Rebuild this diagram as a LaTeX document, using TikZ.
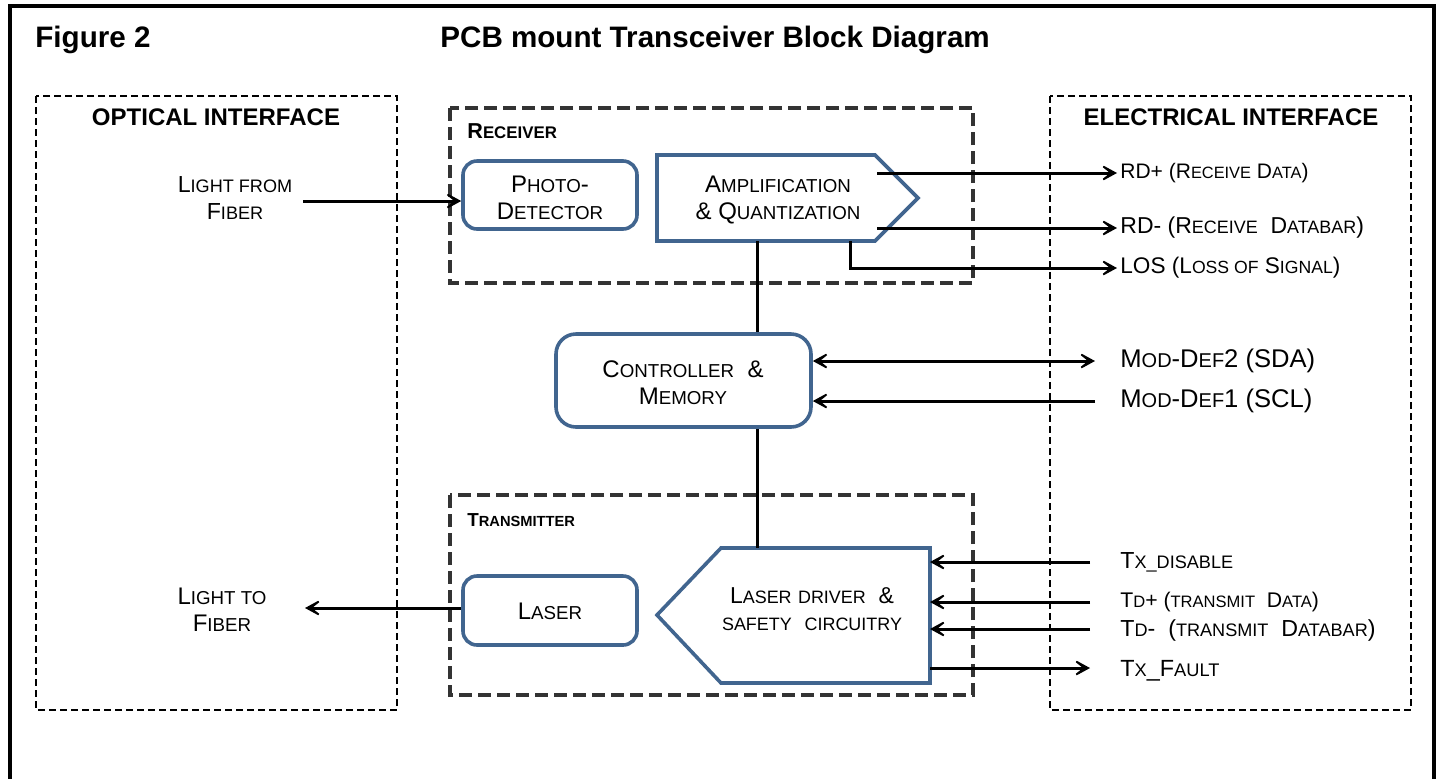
\documentclass[tikz,border=0pt]{standalone}
\usepackage{fontspec}
\setmainfont{Liberation Sans}
\usetikzlibrary{arrows.meta}
\definecolor{boxblue}{HTML}{41658F}
\definecolor{dgrey}{HTML}{333333}
\newcommand\sC[1]{{\fontsize{0.78em}{1em}\selectfont #1}}
\newcommand\fsz[1]{\fontsize{#1}{13.5pt}\selectfont}
\tikzset{
  conn/.style={line width=1.5pt, black},
  tip/.tip={Stealth[length=11pt,width=12pt,inset=7.5pt]},
  arr/.style={conn, -tip},
  barr/.style={conn, tip-tip},
  bluebox/.style={draw=boxblue, line width=1.8pt, fill=white},
  rbox/.style={bluebox, rounded corners=7pt, inner sep=0pt},
  iface/.style={draw=black, line width=1.2pt, dash pattern=on 3.5pt off 2pt},
  group/.style={draw=dgrey, line width=2pt, dash pattern=on 6.5pt off 3pt},
  lbl/.style={font=\fsz{12pt}, align=center, inner sep=0pt, text=black},
  rlbl/.style={lbl, anchor=west},
  head/.style={font=\fontsize{12pt}{14pt}\selectfont\bfseries, inner sep=0pt},
  ttl/.style={font=\fontsize{14.8pt}{17pt}\selectfont\bfseries, inner sep=0pt, anchor=west},
}
\begin{document}
\begin{tikzpicture}[x=0.5pt,y=-0.5pt]
\useasboundingbox (0,0) rectangle (1439,778);
\clip (0,0) rectangle (1439,778);
\fill[white] (0,0) rectangle (1439,778);
% outer frame
\draw[line width=2pt] (10,800) -- (10,6) -- (1434,6) -- (1434,800);
% titles
\node[ttl] (fig) at (35,40) {Figure 2};
\node[ttl] (title) at (440,40) {PCB mount Transceiver Block Diagram};
% interface boxes
\draw[iface] (36,96) rectangle (397,710);
\draw[iface] (1050,96) rectangle (1411,710);
\node[head] (opt) at (216,117) {OPTICAL INTERFACE};
\node[head] (ele) at (1231,117) {ELECTRICAL INTERFACE};
% group boxes
\draw[group] (450,108) rectangle (973,283);
\draw[group] (450,495) rectangle (973,695);
\node[head, anchor=west, font=\fontsize{10.8pt}{12pt}\selectfont\bfseries] (rx) at (467,131) {R\sC{ECEIVER}};
\node[head, anchor=west, font=\fontsize{9.4pt}{12pt}\selectfont\bfseries] (tx) at (467,520) {T\sC{RANSMITTER}};
% receiver blocks
\node[rbox, minimum width=87pt, minimum height=34pt] (pd) at (550,195) {};
\node[lbl] (pdt) at (550,198) {P\sC{HOTO}-\\D\sC{ETECTOR}};
\draw[bluebox] (657,155) -- (875,155) -- (918,198) -- (875,241) -- (657,241) -- cycle;
\node[lbl] (ampt) at (778,200) {A\sC{MPLIFICATION}\\\& Q\sC{UANTIZATION}};
\coordinate (ampb) at (757,241);
\coordinate (amprp) at (877,173);
\coordinate (amprm) at (877,228);
\coordinate (amplos) at (850,241);
% controller
\node[rbox, minimum width=127.5pt, minimum height=46.5pt, rounded corners=10pt] (ctl) at (683.5,380.5) {};
\node[lbl] (ctlt) at (683,383) {C\sC{ONTROLLER}\ \ \&\\M\sC{EMORY}};
% transmitter blocks
\node[rbox, minimum width=87pt, minimum height=34.5pt] (las) at (550,610.5) {};
\node[lbl] (last) at (550,611) {L\sC{ASER}};
\draw[bluebox] (721,548) -- (930,548) -- (930,683) -- (721,683) -- (657,615) -- cycle;
\node[lbl, font=\fsz{11.5pt}] (drvt) at (812,609) {L\sC{ASER}\ \sC{DRIVER}\ \ \&\\\sC{SAFETY}\ \ \sC{CIRCUITRY}};
\coordinate (drvtop) at (757,548);
% left labels
\node[lbl, font=\fsz{11.6pt}] (lff) at (235,198) {L\sC{IGHT FROM}\\F\sC{IBER}};
\node[lbl, font=\fsz{12pt}] (ltf) at (222,610) {L\sC{IGHT TO}\\F\sC{IBER}};
\coordinate (lffe) at (303,201);
\coordinate (ltfe) at (305,608);
% right label anchors
\coordinate (erdp) at (1117,173);
\coordinate (erdm) at (1117,228);
\coordinate (elos) at (1117,268);
\coordinate (emd2) at (1095,361);
\coordinate (emd1) at (1095,401);
\coordinate (etxd) at (1090,562);
\coordinate (etdp) at (1090,602);
\coordinate (etdm) at (1090,629);
\coordinate (etxf) at (1090,668);
\node[rlbl, font=\fsz{10.5pt}] (lrdp) at (1120,173) {RD+ (R\sC{ECEIVE}\ D\sC{ATA})};
\node[rlbl, font=\fsz{11.5pt}] (lrdm) at (1120,228) {RD- (R\sC{ECEIVE}\ \ D\sC{ATABAR})};
\node[rlbl, font=\fsz{11.3pt}] (llos) at (1120,268) {LOS (L\sC{OSS OF} S\sC{IGNAL})};
\node[rlbl, font=\fsz{12.8pt}] (lmd2) at (1120,361) {M\sC{OD}-D\sC{EF}2 (SDA)};
\node[rlbl, font=\fsz{12.8pt}] (lmd1) at (1120,401) {M\sC{OD}-D\sC{EF}1 (SCL)};
\node[rlbl, font=\fsz{11.6pt}] (ltxd) at (1120,562) {T\sC{X\_DISABLE}};
\node[rlbl, font=\fsz{10.6pt}] (ltdp) at (1120,602) {T\sC{D}+ (\sC{TRANSMIT}\ \ D\sC{ATA})};
\node[rlbl, font=\fsz{11.6pt}] (ltdm) at (1120,630) {T\sC{D}-\ \ (\sC{TRANSMIT}\ \ D\sC{ATABAR})};
\node[rlbl, font=\fsz{11.7pt}] (ltxf) at (1120,671) {T\sC{X}\_F\sC{AULT}};
% connectors
\draw[arr] (lffe) -- (pd.west |- lffe);
\draw[arr] (las.west |- ltfe) -- (ltfe);
\draw[arr] (amprp) -- (erdp);
\draw[arr] (amprm) -- (erdm);
\draw[arr] (amplos) |- (elos);
\draw[conn] (ampb) -- (ampb |- ctl.north);
\draw[conn] (ampb |- ctl.south) -- (drvtop);
\draw[barr] (ctl.east |- emd2) -- (emd2);
\draw[arr] (emd1) -- (ctl.east |- emd1);
\draw[arr] (etxd) -- (930,562);
\draw[arr] (etdp) -- (930,602);
\draw[arr] (etdm) -- (930,629);
\draw[arr] (930,668) -- (etxf);
\end{tikzpicture}
\end{document}
